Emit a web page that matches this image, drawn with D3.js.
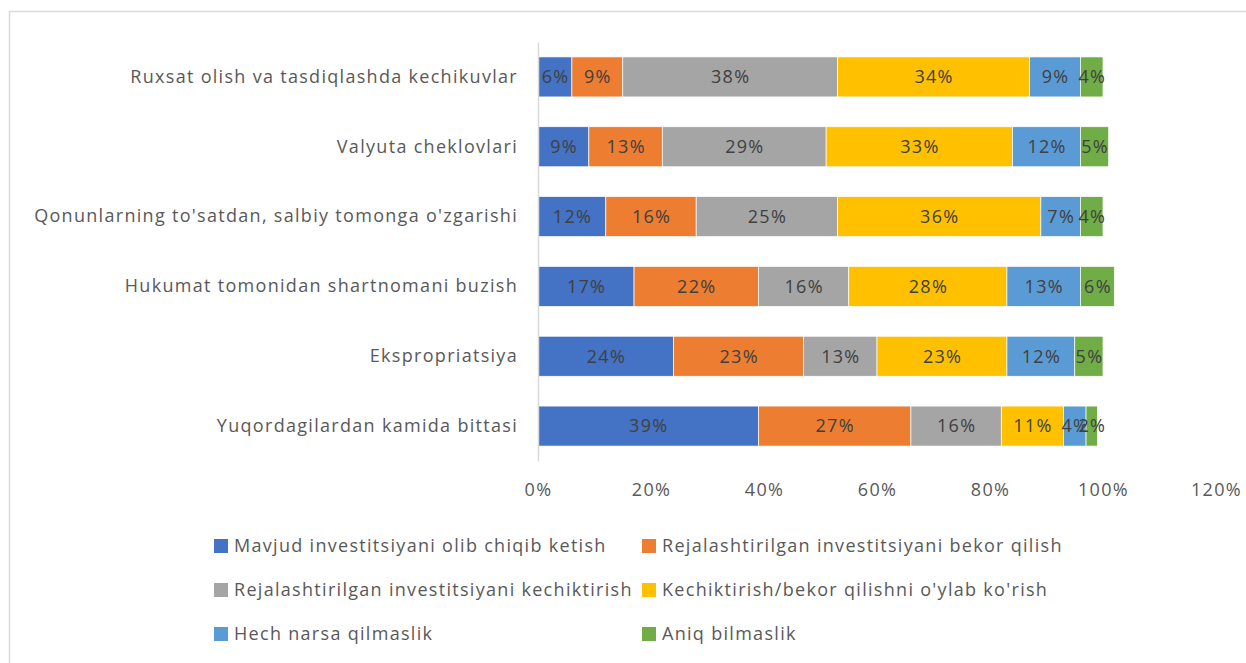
<!DOCTYPE html>
<html>
<head>
<meta charset="utf-8">
<script src="https://cdn.jsdelivr.net/npm/d3@7"></script>
<style>
  body { margin: 0; background: #fff; }
  svg { display: block; font-family: "Open Sans", sans-serif; }
  svg text { letter-spacing: 1.3px; }
</style>
</head>
<body>
<svg width="1246" height="663"></svg>
<script>
const categories = [
    'Ruxsat olish va tasdiqlashda kechikuvlar',
    'Valyuta cheklovlari',
    "Qonunlarning to'satdan, salbiy tomonga o'zgarishi",
    'Hukumat tomonidan shartnomani buzish',
    'Ekspropriatsiya',
    'Yuqordagilardan kamida bittasi'
];
const seriesNames = [
    'Mavjud investitsiyani olib chiqib ketish',
    'Rejalashtirilgan investitsiyani bekor qilish',
    'Rejalashtirilgan investitsiyani kechiktirish',
    "Kechiktirish/bekor qilishni o'ylab ko'rish",
    'Hech narsa qilmaslik',
    'Aniq bilmaslik'
];
// one array per series, in category order
const mavjud     = [6, 9, 12, 17, 24, 39];
const bekor      = [9, 13, 16, 22, 23, 27];
const kechiktir  = [38, 29, 25, 16, 13, 16];
const oylab      = [34, 33, 36, 28, 23, 11];
const hechNarsa  = [9, 12, 7, 13, 12, 4];
const aniqEmas   = [4, 5, 4, 6, 5, 2];
const xTicks = [0, 20, 40, 60, 80, 100, 120];
const colors = ['#4472C4', '#ED7D31', '#A5A5A5', '#FFC000', '#5B9BD5', '#70AD47'];

const seriesValues = [mavjud, bekor, kechiktir, oylab, hechNarsa, aniqEmas];
const table = categories.map((c, i) => {
    const row = { cat: c };
    seriesNames.forEach((s, j) => row[s] = seriesValues[j][i]);
    return row;
});

const svg = d3.select('svg');
const margens = { left: 538, right: 30, top: 42, bottom: 202 };
const innerWidth = 678;
const innerHeight = 419;
const fontSize = '18px';

// chart frame
svg.append('path')
    .attr('d', 'M9.5,663 V11.5 H1246')
    .attr('fill', 'none')
    .attr('stroke', '#d9d9d9')
    .attr('stroke-width', 1.5);

const g = svg.append('g')
    .attr('transform', `translate(${margens.left}, ${margens.top})`);

const mapX = d3.scaleLinear().domain([0, 120]).range([0, innerWidth]);
const mapY = d3.scaleBand().domain(categories).range([0, innerHeight]).paddingInner(0.427).paddingOuter(0.2135);

const stack = d3.stack().keys(seriesNames)(table);

//---- Barras
const layers = g.selectAll('.layer').data(stack).join('g')
    .attr('class', 'layer')
    .attr('fill', (d, i) => colors[i]);

layers.selectAll('rect').data(d => d).join('rect')
    .attr('x', d => mapX(d[0]))
    .attr('y', d => mapY(d.data.cat))
    .attr('width', d => mapX(d[1]) - mapX(d[0]))
    .attr('height', mapY.bandwidth())
    .attr('stroke', '#fff')
    .attr('stroke-width', 0.7);

layers.selectAll('text').data(d => d.map(p => ({ p, key: d.key }))).join('text')
    .attr('x', d => (mapX(d.p[0]) + mapX(d.p[1])) / 2 + 0.6)
    .attr('y', d => mapY(d.p.data.cat) + mapY.bandwidth() / 2)
    .attr('text-anchor', 'middle')
    .attr('dy', '0.35em')
    .attr('fill', '#404040')
    .style('font-size', fontSize)
    .text(d => d.p.data[d.key] + '%');

// axis Y
const yAxis = g.append('g').call(d3.axisLeft(mapY).tickSize(0).tickPadding(20));
yAxis.select('.domain').attr('stroke', '#d9d9d9').attr('stroke-width', 1.5);
yAxis.selectAll('text').attr('fill', '#595959').style('font-size', fontSize).style('font-family', '"Open Sans", sans-serif');

// axis X (labels only)
const xAxis = g.append('g')
    .attr('transform', `translate(0, ${innerHeight})`)
    .call(d3.axisBottom(mapX).tickValues(xTicks).tickSize(0).tickPadding(22).tickFormat(d => d + '%'));
xAxis.select('.domain').remove();
xAxis.selectAll('text').attr('fill', '#595959').style('font-size', fontSize).style('font-family', '"Open Sans", sans-serif');

// legend
const legendRows = [546, 590, 634];
const legendCols = [214, 642];
const legend = svg.append('g').selectAll('g').data(seriesNames).join('g')
    .attr('transform', (d, i) => `translate(${legendCols[i % 2]}, ${legendRows[Math.floor(i / 2)]})`);
legend.append('rect')
    .attr('x', 0).attr('y', -7).attr('width', 14).attr('height', 14)
    .attr('fill', (d, i) => colors[i]);
legend.append('text')
    .attr('x', 20)
    .attr('dy', '0.35em')
    .attr('fill', '#595959')
    .style('font-size', fontSize)
    .text(d => d);
</script>
</body>
</html>
